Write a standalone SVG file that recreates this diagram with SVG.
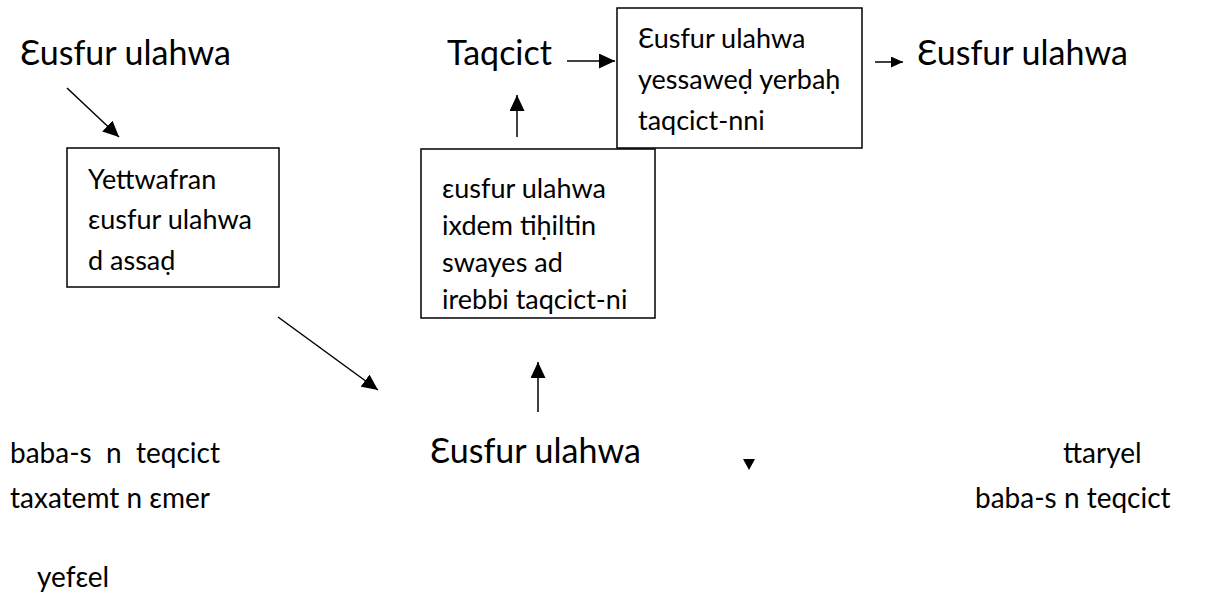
<svg xmlns="http://www.w3.org/2000/svg" width="1232" height="600" viewBox="0 0 1232 600">
<style>
text{font-family:Lato,"Noto Sans","DejaVu Sans",sans-serif;fill:#000}
.big{font-size:34px}
.bx{font-size:27px}
.bot{font-size:28px}
.box{fill:#fff;stroke:#000;stroke-width:1.5}
.ln{stroke:#000;stroke-width:1.5;fill:none}
</style>
<defs>
<marker id="arr" markerUnits="userSpaceOnUse" markerWidth="17" markerHeight="15" refX="16" refY="7.5" orient="auto">
<path d="M0,0 L16,7.5 L0,15 z" fill="#000"/>
</marker>
<marker id="arrs" markerUnits="userSpaceOnUse" markerWidth="13" markerHeight="11" refX="12" refY="5.5" orient="auto">
<path d="M0,0 L12,5.5 L0,11 z" fill="#000"/>
</marker>
</defs>
<rect width="1232" height="600" fill="#fff"/>
<g id="connectors">
<line class="ln" x1="67" y1="88" x2="119" y2="137" marker-end="url(#arr)"/>
<line class="ln" x1="278" y1="317" x2="378" y2="390" marker-end="url(#arr)"/>
<line class="ln" x1="517" y1="137" x2="517" y2="95" marker-end="url(#arr)"/>
<line class="ln" x1="567" y1="61" x2="615" y2="61" marker-end="url(#arr)"/>
<line class="ln" x1="875" y1="62" x2="903" y2="62" marker-end="url(#arrs)"/>
<line class="ln" x1="538" y1="412" x2="538" y2="362" marker-end="url(#arr)"/>
<path d="M743,459 L755,459 L749,470 z" fill="#000"/>
</g>
<g id="t-usfur-top"><text class="big" x="20" y="65">Ɛusfur ulahwa</text></g>
<g id="box1">
<rect class="box" x="67" y="148" width="212" height="139"/>
<text class="bx" x="88" y="189">Yettwafran</text>
<text class="bx" x="88" y="229">ɛusfur ulahwa</text>
<text class="bx" x="88" y="270">d assaḍ</text>
</g>
<g id="t-taqcict"><text class="big" x="447" y="65">Taqcict</text></g>
<g id="box3">
<rect class="box" x="617" y="8" width="245" height="140"/>
<text class="bx" x="638" y="48">Ɛusfur ulahwa</text>
<text class="bx" x="638" y="89">yessaweḍ yerbaḥ</text>
<text class="bx" x="638" y="130">taqcict-nni</text>
</g>
<g id="t-usfur-right"><text class="big" x="917" y="65">Ɛusfur ulahwa</text></g>
<g id="box2">
<rect class="box" x="421" y="149" width="234" height="169"/>
<text class="bx" x="442" y="198">ɛusfur ulahwa</text>
<text class="bx" x="442" y="235">ixdem tiḥiltin</text>
<text class="bx" x="442" y="272">swayes ad</text>
<text class="bx" x="442" y="309">irebbi taqcict-ni</text>
</g>
<g id="t-baba-left">
<text class="bot" x="10" y="463" xml:space="preserve">baba-s  n  teqcict</text>
<text class="bot" x="10" y="508">taxatemt n ɛmer</text>
<text class="bot" x="37" y="587">yefɛel</text>
</g>
<g id="t-usfur-bottom"><text class="big" x="430" y="463">Ɛusfur ulahwa</text></g>
<g id="t-ttaryel"><text class="bot" x="1063" y="463">ttaryel</text></g>
<g id="t-baba-right"><text class="bot" x="975" y="508">baba-s n teqcict</text></g>
</svg>
